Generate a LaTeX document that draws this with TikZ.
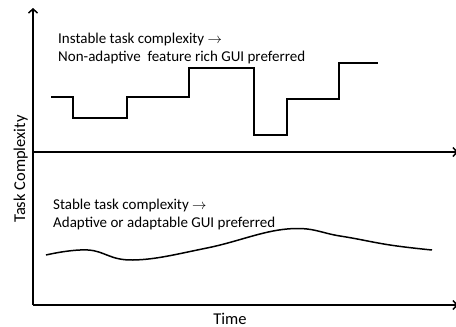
\documentclass[tikz,border=0pt]{standalone}
\usepackage{fontspec}
\setmainfont{Carlito}
\usetikzlibrary{arrows.meta,positioning}

\begin{document}
\begin{tikzpicture}[
    x=1pt, y=-1pt,
    axis_line/.style={line width=1.5pt, -{Straight Barb[length=4pt, width=9pt]}},
    trace_line/.style={line width=1.5pt, line join=miter},
    note_text/.style={anchor=base west, inner sep=0pt, font=\fontsize{15}{18}\selectfont},
    axis_label/.style={inner sep=0pt, font=\fontsize{16.5}{18}\selectfont}
]
\useasboundingbox (0,0) rectangle (456,327);

% --- AXES ---
\coordinate (origin) at (33,305);
\coordinate (y_top) at (33,8);
\coordinate (x_end) at (458,305);
\coordinate (split_left) at (33,152);
\coordinate (split_right) at (458,152);

\draw[axis_line] (origin) -- (y_top);
\draw[axis_line] (origin) -- (x_end);
\draw[axis_line] (split_left) -- (split_right);

% --- AXIS LABELS ---
\node[axis_label, anchor=base] (time_label) at (230,324) {Time};
\node[axis_label, anchor=base, rotate=90] (complexity_label) at (25,169) {Task Complexity};

% --- UPPER HALF: unstable task ---
\node[note_text] (unstable_title) at (58,43) {Instable task complexity $\rightarrow$};
\node[note_text] (unstable_rule) at (58,61) {Non-adaptive\ \ feature rich GUI preferred};

% step trace
\draw[trace_line] (51,97) -- (73,97) -- (73,118) -- (127,118) -- (127,97)
    -- (189,97) -- (189,68) -- (254,68) -- (254,135) -- (287,135)
    -- (287,99) -- (339,99) -- (339,63) -- (378,63);

% --- LOWER HALF: stable task ---
\node[note_text] (stable_title) at (53,209) {Stable task complexity $\rightarrow$};
\node[note_text] (stable_rule) at (53,227) {Adaptive or adaptable GUI preferred};

% smooth trace
\draw[trace_line] plot[smooth, tension=0.7] coordinates {
    (46,255) (88,250) (133,260) (207,248) (287,229)
    (340,236) (390,245) (432,250)};

\end{tikzpicture}
\end{document}
